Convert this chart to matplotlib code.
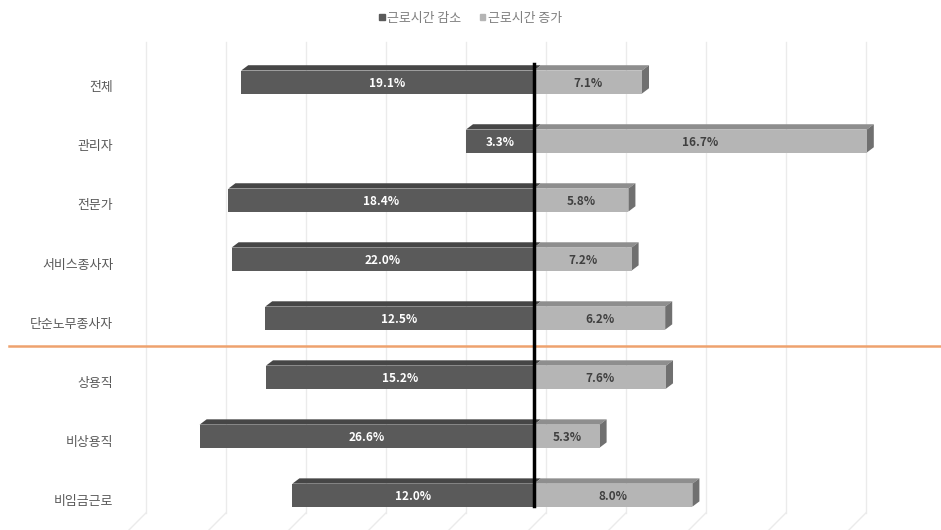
import matplotlib.pyplot as plt
from matplotlib.patches import Polygon, Patch

plt.rcParams['font.family'] = ['Noto Sans CJK KR', 'DejaVu Sans']

categories = ['전체', '관리자', '전문가', '서비스종사자', '단순노무종사자', '상용직', '비상용직', '비임금근로']
# bar lengths as drawn in the picture (axis units, grid every 5)
bar_decrease = [18.3, 4.25, 19.1, 18.9, 16.8, 16.75, 20.9, 15.1]
bar_increase = [6.75, 20.8, 5.9, 6.1, 8.2, 8.25, 4.1, 9.9]
# labels printed on the bars
label_decrease = ['19.1%', '3.3%', '18.4%', '22.0%', '12.5%', '15.2%', '26.6%', '12.0%']
label_increase = ['7.1%', '16.7%', '5.8%', '7.2%', '6.2%', '7.6%', '5.3%', '8.0%']
grid_ticks = [-25, -20, -15, -10, -5, 0, 5, 10, 15, 20]
series_names = ['근로시간 감소', '근로시간 증가']

dark_front, dark_top = '#5a5a5a', '#464646'
light_front, light_top, light_side = '#b5b5b5', '#8e8e8e', '#707070'

fig = plt.figure(figsize=(9.41, 5.30), dpi=100)
ax = fig.add_axes([0, 0, 1, 1])
ax.set_xlim(-33.375, 25.44)
ax.set_ylim(7.59, -1.39)
ax.axis('off')

wall = 0.75   # back-wall shift of gridlines
dx, dy = 0.44, 0.09   # bar depth
h = 0.39

# gridlines with a floor in perspective
for t in grid_ticks:
    gx = t + wall
    ax.plot([gx, gx], [-0.67, 7.3], color='#ebebeb', lw=1, zorder=0)
    ax.plot([gx, gx - 1.1], [7.3, 7.6], color='#ebebeb', lw=1, zorder=0)

for i, cat in enumerate(categories):
    yt, yb = i - h / 2, i + h / 2
    xl = -bar_decrease[i]
    xr = bar_increase[i]
    # decrease bar
    ax.add_patch(Polygon([(xl, yt), (xl + dx, yt - dy), (dx, yt - dy), (0, yt)],
                         closed=True, fc=dark_top, ec='none', zorder=2))
    ax.barh(i, xl, height=h, color=dark_front, zorder=3)
    # increase bar
    ax.add_patch(Polygon([(0, yt), (dx, yt - dy), (xr + dx, yt - dy), (xr, yt)],
                         closed=True, fc=light_top, ec='none', zorder=2))
    ax.add_patch(Polygon([(xr, yt), (xr + dx, yt - dy), (xr + dx, yb - dy), (xr, yb)],
                         closed=True, fc=light_side, ec='none', zorder=2))
    ax.barh(i, xr, height=h, color=light_front, zorder=3)

    ax.text(xl / 2, i + 0.02, label_decrease[i], ha='center', va='center',
            color='white', fontsize=8.5, fontweight='bold', zorder=5)
    ax.text(xr / 2, i + 0.02, label_increase[i], ha='center', va='center',
            color='#404040', fontsize=8.5, fontweight='bold', zorder=5)
    ax.text(-26.3, i + 0.1, cat, ha='right', va='center',
            color='#595959', fontsize=9.3)

# zero line and separator
ax.plot([0, 0], [-0.3, 7.19], color='black', lw=2.5, zorder=6)
ax.axhline(4.47, xmin=0.01, xmax=1, color='#eea26e', lw=1.8, zorder=1)

handles = [Patch(color=dark_front), Patch(color=light_front)]
ax.legend(handles, series_names, loc='upper center', bbox_to_anchor=(0.5, 1.0),
          ncol=2, frameon=False, fontsize=9.3, handlelength=0.45, handleheight=0.45,
          handletextpad=0.2, columnspacing=1.4, labelcolor='#7f7f7f')

fig.savefig('out.png', dpi=100)
